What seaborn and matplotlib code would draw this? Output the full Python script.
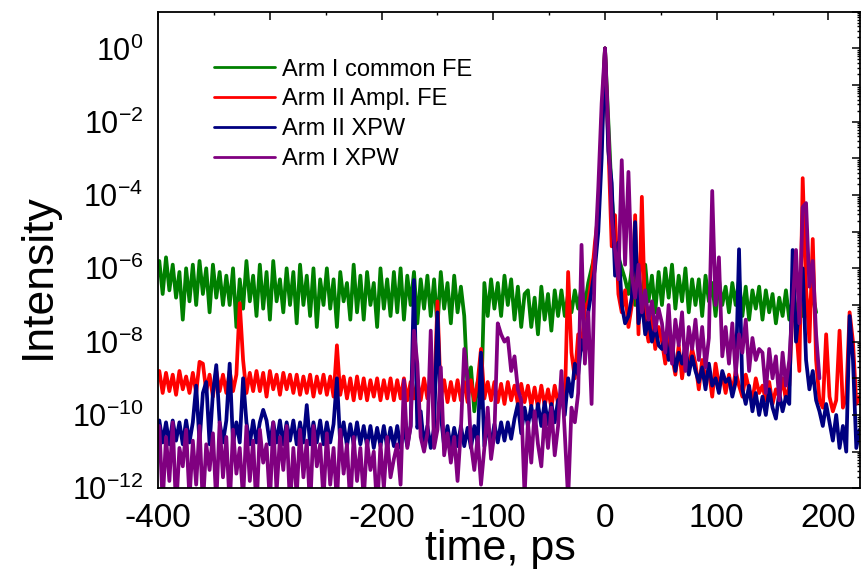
import numpy as np
import pandas as pd
import matplotlib
matplotlib.use("Agg")
import matplotlib.pyplot as plt
import seaborn as sns
from matplotlib.ticker import LogLocator, FuncFormatter, NullFormatter, MultipleLocator, FixedLocator

nan = np.nan

# ---- sample times (ps) ----
time_ps = [
    -399, -396, -393, -390, -387, -384, -381, -378, -375, -372,
    -369, -366, -363, -360, -357, -354, -351, -348, -345, -342,
    -339, -336, -333, -330, -327, -324, -321, -318, -315, -312,
    -309, -306, -303, -300, -297, -294, -291, -288, -285, -282,
    -279, -276, -273, -270, -267, -264, -261, -258, -255, -252,
    -249, -246, -243, -240, -237, -234, -231, -228, -225, -222,
    -219, -216, -213, -210, -207, -204, -201, -198, -195, -192,
    -189, -186, -183, -180, -177, -174, -171, -168, -165, -162,
    -159, -156, -153, -150, -147, -144, -141, -138, -135, -132,
    -129, -126, -123, -120, -117, -114, -111, -108, -105, -102,
    -99, -96, -93, -90, -87, -84, -81, -78, -75, -72,
    -69, -66, -63, -60, -57, -54, -51, -48, -45, -42,
    -39, -36, -33, -30, -27, -24, -21, -18, -15, -12,
    -9, -6, -3, 0, 3, 6, 9, 12, 15, 18,
    21, 24, 27, 30, 33, 36, 39, 42, 45, 48,
    51, 54, 57, 60, 63, 66, 69, 72, 75, 78,
    81, 84, 87, 90, 93, 96, 99, 102, 105, 108,
    111, 114, 117, 120, 123, 126, 129, 132, 135, 138,
    141, 144, 147, 150, 153, 156, 159, 162, 165, 168,
    171, 174, 177, 180, 183, 186, 189, 192, 195, 198,
    201, 204, 207, 210, 213, 216, 219, 222, 225, 228,
]

# ---- log10(intensity) ----
arm1_common_fe_log = [
    -5.8, -6.7, -5.7, -6.6, -5.9, -6.8, -6.1, -7.4, -6.0, -6.9,
    -5.9, -7.0, -5.8, -6.7, -6.0, -7.2, -5.9, -6.8, -6.1, -7.0,
    -6.2, -7.0, -6.0, -7.6, -6.3, -7.1, -5.8, -6.9, -6.2, -7.3,
    -5.9, -7.1, -6.1, -7.4, -5.8, -6.9, -6.3, -7.2, -6.0, -7.0,
    -6.1, -7.5, -5.9, -7.0, -6.2, -7.3, -6.0, -7.6, -6.3, -7.0,
    -6.0, -7.1, -6.3, -7.6, -6.1, -6.9, -6.4, -7.4, -5.9, -7.2,
    -6.2, -7.4, -6.1, -7.0, -6.4, -7.6, -6.0, -7.1, -6.3, -7.3,
    -6.1, -7.2, -6.0, -7.4, -6.2, -7.0, -6.1, -7.5, -6.3, -7.1,
    -6.2, -7.3, -6.3, -7.6, -6.1, -7.1, -6.4, -7.5, -6.2, -7.2,
    -6.5, -7.3, -9.3, -8.7, -9.9, -9.1, -9.8, -6.4, -7.3, -6.3,
    -7.1, -6.4, -7.3, -6.2, -7.0, -6.3, -7.4, -6.5, -7.6, -6.7,
    -6.6, -7.6, -6.8, -7.8, -6.5, -7.4, -6.7, -7.7, -6.6, -7.3,
    -6.6, -7.3, -6.7, -7.2, -6.6, -7.1, -6.5, -7.0, -6.4, -6.0,
    -5.6, -4.6, -2.0, 0.0, -2.0, -4.0, -5.2, -5.7, -6.0, -6.3,
    -6.7, -6.0, -7.0, -6.1, -7.1, -5.9, -6.9, -6.2, -7.2, -6.1,
    -7.0, -6.0, -6.8, -5.9, -7.1, -6.2, -6.9, -6.0, -7.2, -6.3,
    -7.0, -6.3, -7.3, -6.2, -6.9, -6.4, -7.3, -6.3, -7.0, -6.5,
    -7.2, -6.4, -7.0, -6.3, -7.3, -6.5, -7.4, -6.6, -7.1, -6.5,
    -7.4, -6.6, -7.2, -6.7, -7.5, -6.8, -7.3, -6.6, -7.4, -6.8,
    -7.3, -6.7, -7.3, -6.8, -7.2, -6.7, -7.2, nan, nan, nan,
    nan, nan, nan, nan, nan, nan, nan, nan, nan, nan,
]

arm2_ampl_fe_log = [
    -8.8, -9.4, -8.85, -9.35, -8.9, -9.45, -8.8, -9.3, -8.95, -9.4,
    -8.85, -9.4, -8.55, -8.6, -9.35, -8.9, -9.5, -8.8, -9.35, -8.9,
    -9.4, -8.8, -9.35, -8.9, -6.95, -8.5, -9.4, -8.85, -9.35, -8.8,
    -9.35, -8.85, -9.5, -8.8, -9.3, -8.9, -9.45, -8.85, -9.3, -8.9,
    -9.4, -8.9, -9.45, -8.95, -9.4, -8.9, -9.5, -8.95, -9.4, -8.9,
    -9.45, -8.95, -9.5, -8.1, -9.45, -8.95, -9.55, -9.0, -9.6, -8.95,
    -9.55, -9.0, -9.6, -9.05, -9.5, -9.0, -9.6, -9.05, -9.55, -9.0,
    -9.6, -9.05, -9.55, -9.0, -9.6, -9.1, -9.55, -9.05, -9.6, -9.0,
    -9.55, -9.05, -9.6, -6.9, -9.55, -9.05, -9.65, -9.1, -9.6, -9.05,
    -9.6, -9.1, -9.65, -9.05, -9.6, -9.1, -8.2, -9.55, -9.1, -9.6,
    -9.1, -9.65, -9.15, -9.7, -9.1, -9.6, -9.2, -9.7, -9.15, -9.65,
    -9.2, -9.75, -9.25, -9.8, -9.2, -9.75, -9.3, -9.8, -9.2, -9.7,
    -9.3, -9.75, -6.1, -8.3, -9.0, -7.8, -8.2, -7.1, -6.9, -6.3,
    -5.3, -4.5, -2.5, 0.0, -2.6, -5.4, -4.55, -6.7, -7.2, -6.6,
    -7.6, -7.0, -4.55, -7.8, -4.05, -7.5, -8.0, -7.3, -8.2, -7.6,
    -8.0, -8.6, -7.7, -8.4, -8.9, -8.1, -9.0, -8.3, -8.7, -8.2,
    -8.6, -9.3, -8.5, -9.0, -8.8, -9.5, -8.6, -9.2, -8.9, -9.4,
    -8.9, -9.4, -8.8, -9.2, -9.5, -8.9, -9.3, -9.6, -9.0, -9.4,
    -9.2, -9.6, -9.1, -9.7, -9.3, -9.5, -9.0, -9.6, -9.2, -7.0,
    -7.5, -8.8, -3.54, -6.5, -8.0, -5.2, -8.5, -9.6, -9.8, -7.8,
    -9.5, -9.9, -9.6, -7.7, -9.8, -9.5, -7.2, -8.0, -9.7, -9.5,
]

arm2_xpw_log = [
    -10.15, -10.75, -10.2, -10.8, -10.15, -10.7, -10.2, -10.8, -10.15, -10.75,
    -10.2, -9.2, -10.75, -9.4, -9.1, -10.8, -9.4, -8.64, -10.2, -10.75,
    -10.15, -8.6, -10.8, -10.2, -10.75, -9.0, -10.2, -10.8, -10.15, -10.75,
    -10.2, -9.86, -10.15, -10.8, -10.2, -10.75, -10.15, -10.8, -10.2, -10.7,
    -10.15, -10.8, -10.2, -10.75, -9.73, -10.8, -10.2, -10.75, -10.15, -10.8,
    -10.2, -10.75, -10.25, -9.0, -10.8, -10.2, -10.85, -10.25, -10.8, -10.2,
    -10.8, -10.3, -10.85, -10.3, -10.9, -10.35, -10.85, -10.3, -10.9, -10.35,
    -10.85, -10.3, -10.9, -10.35, -10.85, -10.3, -6.32, -10.35, -9.9, -10.85,
    -10.3, -10.9, -10.35, -7.2, -10.0, -10.85, -10.3, -10.9, -10.35, -10.85,
    -10.3, -10.85, -10.35, -10.9, -10.3, -10.8, -8.3, -10.85, -10.3, -10.8,
    -10.25, -10.75, -10.2, -10.7, -10.2, -10.65, -10.1, -9.7, -10.5, -9.8,
    -10.3, -9.75, -10.35, -9.7, -10.3, -9.65, -10.25, -9.7, -10.2, -9.6,
    -9.5, -10.0, -9.0, -9.5, -8.6, -8.9, -7.96, -8.3, -7.2, -6.6,
    -6.0, -5.0, -3.0, 0.0, -2.8, -3.67, -6.2, -5.3, -7.0, -7.5,
    -7.3, -6.8, -4.74, -7.5, -6.9, -7.8, -7.4, -8.0, -7.6, -8.1,
    -8.2, -7.8, -8.5, -8.0, -8.8, -8.3, -8.6, -8.1, -8.9, -8.4,
    -8.8, -9.1, -8.7, -9.3, -8.6, -9.2, -9.0, -9.4, -8.8, -9.1,
    -9.0, -9.5, -9.1, -5.48, -9.3, -9.7, -9.2, -9.9, -9.4, -10.0,
    -9.5, -10.0, -9.3, -9.8, -10.1, -9.4, -9.9, -9.5, -9.7, -5.5,
    -8.0, -7.0, -6.0, -8.5, -9.3, -8.8, -9.6, -9.9, -10.3, -9.7,
    -10.2, -10.7, -10.0, -10.9, -10.3, -11.0, -7.3, -8.5, -10.9, -10.4,
]

arm1_xpw_log = [
    -10.3, -12.4, -10.6, -11.8, -10.2, -12.6, -10.9, -11.4, -10.4, -12.3,
    -10.7, -11.9, -10.3, -12.5, -10.8, -11.5, -10.5, -12.4, -10.2, -11.7,
    -10.6, -12.5, -10.4, -11.6, -10.9, -12.3, -10.3, -11.8, -10.7, -12.6,
    -10.4, -11.3, -10.8, -12.4, -10.2, -12.1, -10.6, -11.5, -10.3, -12.5,
    -10.9, -12.2, -10.4, -11.7, -10.7, -12.6, -10.3, -11.4, -10.8, -12.3,
    -10.5, -11.9, -10.9, -12.4, -10.4, -11.6, -10.8, -12.5, -10.6, -11.8,
    -10.9, -12.3, -10.7, -11.5, -11.0, -12.6, -10.8, -12.0, -10.6, -11.7,
    -11.2, -10.8, -11.9, -9.05, -10.9, -10.3, -7.7, -8.6, -10.6, -11.0,
    -10.5, -7.7, -10.9, -10.4, -8.7, -11.1, -10.5, -11.3, -10.6, -11.8,
    -10.4, -8.2, -9.0, -10.8, -11.5, -10.6, -11.9, -10.9, -9.8, -11.2,
    -10.5, -7.5, -7.8, -8.0, -7.9, -8.8, -8.4, -9.3, -9.6, -12.2,
    -10.2, -11.3, -9.9, -10.8, -11.4, -10.0, -10.9, -9.8, -11.1, -10.3,
    -8.8, -10.5, -12.3, -9.8, -10.2, -9.4, -5.36, -8.6, -7.2, -9.7,
    -5.7, -3.8, -1.5, 0.0, -2.2, -4.6, -5.5, -6.3, -3.05, -5.9,
    -3.37, -6.2, -6.8, -5.9, -7.2, -6.6, -7.4, -6.9, -7.7, -7.1,
    -7.5, -8.3, -7.0, -8.6, -7.4, -8.1, -7.2, -8.8, -7.6, -8.2,
    -7.4, -8.5, -7.6, -8.7, -7.9, -3.89, -7.0, -5.7, -8.4, -7.6,
    -8.6, -7.5, -8.9, -7.8, -8.3, -7.4, -8.8, -7.9, -8.5, -8.2,
    -8.3, -9.4, -8.2, -9.0, -8.4, -9.6, -8.3, -9.2, -8.5, -7.0,
    -5.5, -7.5, -4.33, -4.22, -6.5, -5.8, -7.8, -9.0, nan, nan,
    nan, nan, nan, nan, nan, nan, nan, nan, nan, nan,
]

series_names = ["Arm I common FE", "Arm II Ampl. FE", "Arm II XPW", "Arm I XPW"]
series_logs = [arm1_common_fe_log, arm2_ampl_fe_log, arm2_xpw_log, arm1_xpw_log]
line_colors = ["#008000", "#ff0000", "#000080", "#800080"]
x_ticks = [-400, -300, -200, -100, 0, 100, 200]
y_label_exponents = [0, -2, -4, -6, -8, -10, -12]

# ---- style ----
sns.set_theme(style="white")
plt.rcParams["font.family"] = ["Liberation Sans", "DejaVu Sans"]
plt.rcParams["mathtext.fontset"] = "custom"
plt.rcParams["mathtext.rm"] = "Liberation Sans"
plt.rcParams["mathtext.it"] = "Liberation Sans:italic"
plt.rcParams["mathtext.bf"] = "Liberation Sans:bold"
plt.rcParams["axes.unicode_minus"] = False

frames = []
for name, logs in zip(series_names, series_logs):
    frames.append(pd.DataFrame({
        "time": time_ps,
        "intensity": np.power(10.0, np.array(logs, dtype=float)),
        "series": name,
    }))
df = pd.concat(frames, ignore_index=True)

W, H = 861, 569
ax_l, ax_r, ax_t, ax_b = 158.2, 860.0, 11.7, 488.3
rect = [ax_l / W, 1 - ax_b / H, (ax_r - ax_l) / W, (ax_b - ax_t) / H]

fig = plt.figure(figsize=(W / 100, H / 100), dpi=100)
ax = fig.add_axes(rect)
sns.lineplot(data=df, x="time", y="intensity", hue="series", hue_order=series_names,
             palette=line_colors, estimator=None, sort=False, linewidth=2.7, ax=ax)
ax.set_yscale("log")
ax.set_xlim(-400, 228.3)
ax.set_ylim(1e-12, 10)

ax.xaxis.set_major_locator(FixedLocator(x_ticks))
ax.xaxis.set_minor_locator(MultipleLocator(50))
ax.yaxis.set_major_locator(LogLocator(base=10, numticks=40))
ax.yaxis.set_minor_locator(LogLocator(base=10, subs=np.arange(2, 10), numticks=40))
ax.yaxis.set_minor_formatter(NullFormatter())


def log_fmt(v, pos):
    e = int(round(np.log10(v)))
    return r"$10^{%d}$" % e if e in y_label_exponents else ""


ax.yaxis.set_major_formatter(FuncFormatter(log_fmt))
ax.tick_params(which="both", direction="out", top=False, right=False, colors="black")
ax.tick_params(axis="x", which="major", length=4, width=1.1, pad=6.5, labelsize=24)
ax.tick_params(axis="x", which="minor", length=2.3, width=1.1)
ax.tick_params(axis="y", which="major", length=5.8, width=1.1, pad=5, labelsize=22)
ax.tick_params(axis="y", which="minor", length=3.2, width=1.0)
for s in ax.spines.values():
    s.set_visible(True)
    s.set_color("black")
    s.set_linewidth(1.3)

ax.set_xlabel("time, ps", fontsize=31, color="black")
ax.xaxis.label.set_verticalalignment("baseline")
ax.xaxis.set_label_coords(0.488, -0.1495)
ax.set_ylabel("Intensity", fontsize=32, color="black")
ax.yaxis.set_label_coords(-0.1413, 0.4454)

handles, labels = ax.get_legend_handles_labels()
leg = ax.legend(handles, labels, loc="upper left", bbox_to_anchor=(0.0795, 0.9015),
                frameon=False, fontsize=17, handlelength=2.6, handletextpad=0.3,
                labelspacing=0.33, borderaxespad=0, borderpad=0)
for ln in leg.get_lines():
    ln.set_linewidth(2.0)
for t in leg.get_texts():
    t.set_color("black")

# mirrored ticks on top and right, pointing inward
ov = fig.add_axes(rect, facecolor="none", label="mirror")
ov.set_yscale("log")
ov.set_xlim(ax.get_xlim())
ov.set_ylim(ax.get_ylim())
ov.xaxis.set_major_locator(FixedLocator(x_ticks))
ov.xaxis.set_minor_locator(MultipleLocator(50))
ov.yaxis.set_major_locator(LogLocator(base=10, numticks=40))
ov.yaxis.set_minor_locator(LogLocator(base=10, subs=np.arange(2, 10), numticks=40))
ov.tick_params(which="both", direction="in", left=False, bottom=False, top=True, right=True,
               labelleft=False, labelbottom=False, labeltop=False, labelright=False,
               colors="black")
ov.tick_params(which="major", length=5.5, width=1.1)
ov.tick_params(which="minor", length=2.5, width=1.0)
for s in ov.spines.values():
    s.set_visible(False)
ov.grid(False)

fig.savefig("out.png", dpi=100)
